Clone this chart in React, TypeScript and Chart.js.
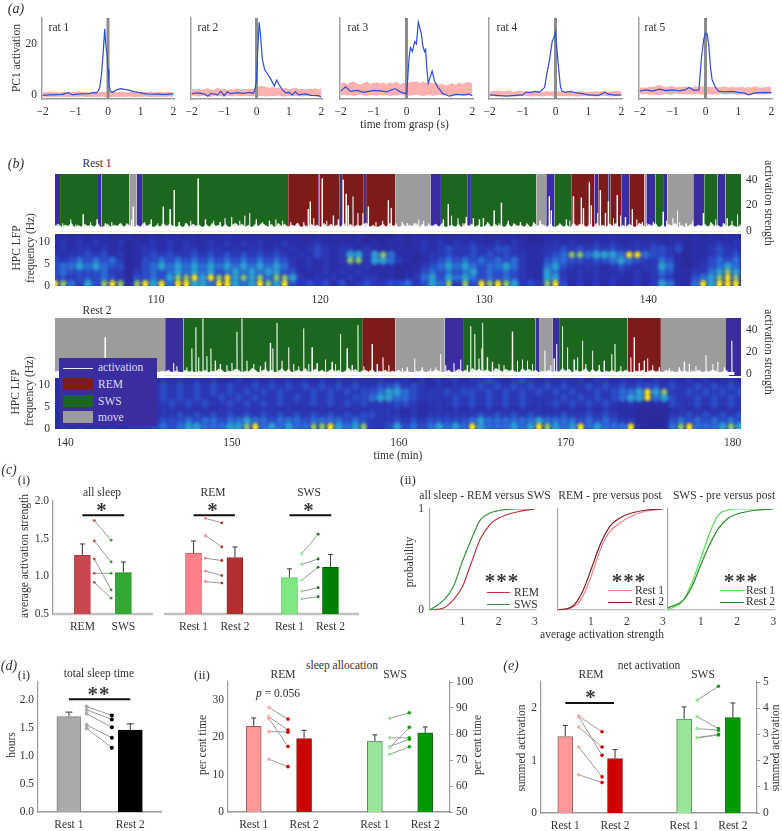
import React, { useEffect, useRef } from 'react';
import { Chart, registerables } from 'chart.js';

Chart.register(...registerables);
Chart.defaults.font.family = '"Liberation Serif", serif';
Chart.defaults.font.size = 11.5;

const TXT = '#333333';
const AXIS = '#9a9a9a';

/* ---------- (a) ---------- */
const bandT = [-2,-1.9,-1.8,-1.7,-1.6,-1.5,-1.4,-1.3,-1.2,-1.1,-1,-0.9,-0.8,-0.7,-0.6,-0.5,-0.4,-0.3,-0.2,-0.1,0,0.1,0.2,0.3,0.4,0.5,0.6,0.7,0.8,0.9,1,1.1,1.2,1.3,1.4,1.5,1.6,1.7,1.8,1.9,2];
const rat1U = [1.2,1.0,1.3,1.1,1.2,0.9,1.1,1.3,1.0,1.2,1.1,1.4,1.0,1.2,0.9,1.1,1.3,1.0,1.2,1.1,1.3,1.5,1.2,1.0,1.3,1.1,1.0,1.2,1.1,0.9,1.2,1.0,1.1,1.3,0.9,1.1,1.2,1.0,1.3,1.1,1.0];
const rat1L = [-0.8,-0.7,-0.9,-0.7,-0.8,-0.6,-0.8,-0.7,-0.9,-0.7,-0.8,-0.7,-0.6,-0.8,-0.7,-0.9,-0.7,-0.8,-0.6,-0.8,-0.7,-0.8,-0.7,-0.9,-0.7,-0.8,-0.6,-0.7,-0.9,-0.7,-0.8,-0.7,-0.6,-0.8,-0.7,-0.9,-0.7,-0.8,-0.7,-0.6,-0.8];
const rat2U = [2.4,2.0,2.6,1.9,2.3,2.7,1.8,2.2,2.8,2.0,2.5,1.9,2.3,2.1,2.6,2.0,2.4,2.2,2.5,2.2,2.8,3.6,3.4,3.0,2.8,3.1,2.6,2.9,2.4,2.7,2.2,2.5,2.9,2.1,2.4,2.0,2.5,2.2,2.6,2.1,2.4];
const rat2L = [-0.5,-0.3,-0.6,-0.4,-0.2,-0.5,-0.7,-0.3,-0.5,-0.4,-0.6,-0.3,-0.4,-0.6,-0.2,-0.5,-0.4,-0.3,-0.5,-0.4,-0.3,-0.5,-0.4,-0.6,-0.3,-0.5,-0.4,-0.2,-0.5,-0.6,-0.3,-0.4,-0.5,-0.3,-0.6,-0.4,-0.5,-0.3,-0.4,-0.6,-0.5];
const rat3U = [4.4,5.0,4.2,4.9,5.3,4.5,4.0,4.8,5.2,4.3,4.7,5.1,4.4,4.9,4.2,5.0,4.6,5.3,4.1,4.8,4.4,5.2,5.0,5.5,4.6,5.3,4.8,5.1,4.5,4.9,4.0,4.4,3.6,4.2,4.7,3.8,5.0,4.3,4.9,5.1,4.6];
const rat3L = [-0.2,0.1,-0.3,0.0,-0.4,-0.1,0.2,-0.2,-0.4,0.0,-0.1,-0.3,0.1,-0.2,0.0,-0.4,-0.1,-0.3,0.1,-0.2,0.0,-0.3,-0.1,0.1,-0.2,-0.4,-0.1,0.0,-0.3,-0.1,0.1,-0.2,0.0,0.2,-0.3,-0.1,0.0,-0.2,-0.4,0.0,-0.2];
const rat4U = [1.2,1.6,1.4,1.7,1.3,1.5,1.7,1.2,1.4,1.6,1.3,1.5,1.2,1.4,1.6,1.3,1.1,1.5,1.3,1.4,1.2,1.5,1.3,1.1,1.4,1.2,1.0,1.3,1.4,1.1,1.3,1.2,1.4,1.1,1.5,1.7,1.3,1.2,1.5,1.6,1.3];
const rat4L = [-0.5,-0.4,-0.6,-0.5,-0.3,-0.6,-0.4,-0.5,-0.6,-0.4,-0.5,-0.3,-0.5,-0.6,-0.4,-0.5,-0.6,-0.4,-0.3,-0.5,-0.6,-0.4,-0.5,-0.3,-0.6,-0.4,-0.5,-0.6,-0.4,-0.3,-0.5,-0.4,-0.6,-0.5,-0.4,-0.3,-0.5,-0.6,-0.4,-0.5,-0.4];
const rat5U = [2.8,3.0,2.7,3.3,3.1,3.6,3.9,3.4,3.0,3.3,3.5,2.9,3.2,3.0,3.4,2.8,3.1,3.3,3.0,3.4,3.5,3.2,3.0,3.3,2.9,3.1,3.4,2.8,3.2,3.0,2.9,3.3,2.7,3.1,2.9,3.4,3.0,2.8,3.2,3.0,3.3];
const rat5L = [0.4,0.2,0.5,0.1,0.3,0.0,-0.1,0.2,0.4,0.1,0.3,0.5,0.2,0.4,0.1,0.3,0.2,0.5,0.3,0.1,0.2,0.4,0.1,0.3,0.2,0.5,0.1,0.3,0.4,0.2,0.0,0.3,0.1,-0.1,0.2,0.4,0.1,0.3,0.2,0.4,0.3];

const rat1T = [-2,-1.8,-1.6,-1.4,-1.2,-1.1,-1,-0.8,-0.6,-0.45,-0.35,-0.3,-0.25,-0.2,-0.15,-0.1,-0.07,-0.03,0,0.03,0.07,0.1,0.15,0.2,0.3,0.4,0.5,0.6,0.8,1,1.2,1.5,1.8,2];
const rat1V = [-0.2,0,0.1,0.2,0.9,0,0.2,0.4,0.5,0.9,0.8,1.5,3,8,16,26,20,16,10,4,1.5,1.2,1,1.5,2.2,2.5,2.2,2,1.3,0.8,0.4,0.3,0.2,0.4];
const rat2T = [-2,-1.8,-1.6,-1.5,-1.4,-1.2,-1.1,-1,-0.9,-0.8,-0.6,-0.4,-0.2,-0.1,-0.05,0,0.03,0.08,0.12,0.18,0.25,0.35,0.45,0.55,0.62,0.7,0.8,0.9,1,1.1,1.2,1.3,1.5,1.7,1.9,2];
const rat2V = [0.5,0.8,0.3,-0.5,0.6,0,1.5,-0.3,1.2,0.5,0.9,0.6,1,0.6,2,6,15,28.5,24,14,10,8,6,3.5,5.8,4,2,0.8,1,0,1.2,0,0.4,-0.2,-0.3,-0.8];
const rat3T = [-2,-1.85,-1.7,-1.5,-1.3,-1,-0.8,-0.6,-0.35,-0.2,0,0.03,0.08,0.12,0.18,0.25,0.3,0.36,0.45,0.5,0.55,0.58,0.62,0.66,0.72,0.78,0.85,0.95,1.1,1.3,1.5,1.7,1.9,2];
const rat3V = [1.5,3.2,1.4,1.8,1,1.8,1.6,1.2,2.5,1.2,0.4,5,15,18.5,17,21,20,28.6,24,19,17,17.8,10,4.6,7,9.4,5.5,3,0.6,-0.5,0.2,0,0.3,-0.3];
const rat4T = [-2,-1.5,-1,-0.9,-0.75,-0.6,-0.5,-0.4,-0.33,-0.27,-0.19,-0.1,-0.05,0,0.03,0.08,0.15,0.2,0.3,0.45,0.6,0.8,1,1.3,1.5,1.6,1.8,2];
const rat4V = [0,-0.5,0,1,1,1.4,1,2,3,7.8,13,21,22.5,24.7,20,12.5,3.2,1.5,1,1.4,0.9,0.5,0,-0.2,1,0.3,-0.1,0];
const rat5T = [-2,-1.8,-1.6,-1.4,-1.2,-1,-0.8,-0.6,-0.5,-0.35,-0.2,-0.12,-0.05,0,0.05,0.1,0.15,0.2,0.3,0.4,0.6,0.8,1,1.2,1.3,1.5,1.8,2];
const rat5V = [1.5,2,1.5,2.3,1.7,2,1.6,2.1,2.9,1.8,2,15,22,24.3,24,19.6,11,6,3,1.5,1.2,1.4,1,0.7,0,0.8,1,0.9];

const ratNames = ['rat 1', 'rat 2', 'rat 3', 'rat 4', 'rat 5'];

/* ---------- (b) ---------- */
const stateColors: Record<string, string> = { N: '#3a2d9f', R: '#7d1a1a', S: '#1d661d', M: '#9c9c9c' };
const rest1Edges = [103.84,104.15,106.46,106.68,108.38,108.81,109.15,118.05,119.88,119.97,121.16,121.34,122.62,122.80,124.57,126.75,127.36,128.96,129.19,133.17,133.78,134.27,135.30,136.71,136.95,137.56,137.68,138.35,138.84,139.76,139.88,140.43,140.90,141.16,142.74,143.41,144.21,144.70,145.65];
const rest1States = 'NSNSMNSRNRNRNRMNSNSMNSRNRNRNRMNSNMNSNS';
const rest2Edges = [139.4,146,147.1,157.8,159.8,162.75,163.9,168.2,168.4,169.2,169.6,173.7,175.7,179.6,180.5];
const rest2States = 'MNSRMNSNMNSRMN';

const rest1SpikeT = [104.3,104.8,105.1,105.55,106,106.4,106.9,107.3,107.8,108.2,108.5,108.6,109.3,109.7,110.1,110.43,110.85,111.1,111.4,111.8,112.1,112.56,113,113.5,113.9,114.2,114.6,115.1,115.4,115.7,116.1,116.5,116.9,117.3,117.7,118.2,118.6,119,119.27,119.39,119.6,120.12,120.4,120.8,121.1,121.4,121.58,121.7,122,122.3,122.6,122.93,123.4,123.8,124.15,124.33,124.6,125,125.3,125.7,126,126.3,126.6,127.1,127.5,127.8,128,128.4,128.7,128.9,129.33,129.7,129.94,130.2,130.6,130.9,131.04,131.46,131.8,132.2,132.6,133,133.4,133.96,134.08,134.6,135,135.2,135.43,135.91,136.04,136.4,136.52,136.9,137.07,137.38,137.56,137.87,138.1,138.3,138.6,139.02,139.3,139.63,139.9,140.3,140.9,141.1,141.5,141.77,141.9,142.3,142.7,143.35,143.8,144.1,144.57,144.8,145.1,145.43];
const rest1SpikeV = [6,9,5,13,7,9,6,7,5,6,9,19,7,9,6,19,17,32,7,6,8,41,9,8,7,10,11,8,12,14,9,7,8,9,8,7,6,7,17,23,10,41,8,12,9,40,29,20,27,14,14,19,7,8,24,18,6,7,6,6,9,8,6,5,9,21,12,10,6,11,10,9,10,7,16,6,22,8,6,7,6,7,8,27,16,6,9,8,27,26,18,38,20,14,32,14,23,10,28,12,11,17,9,7,6,7,15,8,10,16,7,6,8,14,7,9,6,10,8,13];
const rest2SpikeT = [140.2,142.4,143.5,146.5,146.7,147.3,147.6,147.84,148,148.26,148.5,148.74,149,149.3,149.7,150,150.3,150.6,150.9,151.3,151.7,152,152.3,152.45,152.7,153,153.4,153.7,154,154.3,154.6,154.8,155.1,155.6,156,156.2,156.5,156.9,157.2,157.55,157.9,158.4,158.7,159.05,159.4,160.2,160.5,160.95,161.4,161.9,162.2,162.5,162.8,163.3,163.7,164.1,164.3,164.55,164.8,164.97,165.03,165.3,165.6,166,166.3,166.8,167.1,167.4,167.7,168,168.75,169.1,169.3,169.45,169.8,170.1,170.5,170.7,171,171.2,171.6,172,172.3,172.75,172.95,173.3,173.9,174.1,174.4,174.7,174.9,175.2,175.6,176.2,176.8,177.1,177.4,177.8,178.4,178.8,179.1,179.5,179.95];
const rest2SpikeV = [5,33,12,10,7,6,23,42,15,50,16,23,12,9,8,10,38,50,12,9,7,11,28,23,46,12,24,9,7,41,9,24,10,13,11,9,36,23,8,44,7,27,9,15,8,5,6,14,6,5,6,18,8,10,13,8,43,36,14,23,46,15,11,9,8,38,12,13,12,9,21,8,14,27,43,24,13,15,30,9,21,8,12,18,27,7,15,33,10,12,14,8,6,5,6,11,9,7,17,9,11,6,30];

/* small baseline jitter of the activation traces, one digit per 0.2 min */
const rest1Fuzz = '3524361425342613524362531426351426353241625341526342514635241536425163524361425341625342615243562413526341524361524352613425163524136253416253425163542613524163542516342536142531642536142536241352435263415243152';
const rest2Fuzz = '23132413242131423124132314231241324132142313241325413254132641352413625134261352413524136251342513241324132132413243124135241635243164253421635241324132635142361524132413242132413423142314231324132431241';

const specFreqs = [0.6, 1.9, 3.2, 4.5, 5.8, 7.1, 8.4, 9.7, 11];
const specColors = ['', '#2a2ea8', '#2b38b6', '#2b4cc8', '#2a6cd6', '#2a9ed2', '#8ccc68', '#f8e818'];
const rest1Spec = [
  '7642536761' + '6757477554' + '7754576573' + '2323131232' + '2334235462' + '6376765232' + '6731212121' + '1212541147' + '5777',
  '3323334320' + '3343566757' + '6756564665' + '2121212122' + '1101245354' + '5434343211' + '5521212121' + '1212321134' + '5676',
  '3433334220' + '2343454545' + '3454545533' + '1112121211' + '1101134343' + '4534343211' + '5421212112' + '1212431122' + '4565',
  '3445454330' + '1345454545' + '4545454542' + '1212112121' + '1100123454' + '5434454211' + '4532122123' + '2122541012' + '3454',
  '3234343420' + '1334343434' + '3434343432' + '1212126625' + '5421012343' + '4343434211' + '3443323345' + '4322431011' + '3434',
  '2122323120' + '1232322323' + '2323232321' + '2132125525' + '6411012232' + '2323232211' + '2346645554' + '7743321011' + '2323',
  '1212212110' + '1221212212' + '2121221212' + '1232122121' + '1011121232' + '2322332111' + '2232323232' + '2223323011' + '2322',
  '1212121120' + '1121212112' + '1212121121' + '1121011101' + '0110121212' + '1211212100' + '1212112121' + '1212112011' + '1212',
  '1101011001' + '0010110101' + '0110100101' + '0010100100' + '0010110100' + '1010011000' + '1010100110' + '1000010010' + '1011',
];
const rest2Spec = [
  '1212121212' + '2234345544' + '4556745454' + '4667545622' + '3534345454' + '7544454576' + '5457454447' + '1000467444' + '565',
  '1111111111' + '2223334344' + '3445443444' + '3444434322' + '2323233333' + '4544444454' + '4443434322' + '0000343434' + '343',
  '1111111111' + '1222232323' + '2323232323' + '2323232332' + '2212122222' + '2323232322' + '2322323211' + '0000223232' + '323',
  '1111111111' + '1212212121' + '2222222121' + '2121212122' + '2212112121' + '2121212121' + '2121212111' + '0000121212' + '121',
  '1111111111' + '2222323232' + '2323232322' + '2323232322' + '2332122232' + '3232323222' + '3232323212' + '1111322323' + '232',
  '1111111111' + '2323232322' + '3232322323' + '2323223345' + '5443222232' + '3232323222' + '2323232345' + '5745322323' + '232',
  '1111111111' + '2323232323' + '2323232322' + '2323232334' + '5543222323' + '3232323232' + '3232232344' + '5756223232' + '323',
  '1111111111' + '2223232323' + '2322323232' + '3232323223' + '3423212122' + '2323232323' + '2322323232' + '3332322323' + '232',
  '1111111111' + '1212121212' + '1121212121' + '2121212112' + '1121212121' + '2232123212' + '1212122121' + '2121212121' + '121',
];

/* ---------- (c)(ii) ---------- */
const cdf1X = [0.11, 0.48, 0.75, 1, 1.26, 1.49, 1.76, 2, 2.5, 3];
const cdf1Rem = [0, 0.02, 0.1, 0.23, 0.48, 0.7, 0.845, 0.91, 0.97, 1];
const cdf1Sws = [0, 0.096, 0.23, 0.48, 0.71, 0.89, 0.96, 0.985, 1, 1];
const cdf2X = [0.09, 0.48, 0.75, 1, 1.26, 1.53, 1.8, 2.13, 2.55, 3];
const cdf2Rest1 = [0, 0.026, 0.12, 0.33, 0.6, 0.78, 0.86, 0.93, 0.98, 1];
const cdf2Rest2 = [0, 0.035, 0.17, 0.4, 0.65, 0.83, 0.91, 0.96, 0.99, 1];
const cdf3X = [0.09, 0.52, 0.75, 1, 1.26, 1.49, 1.76, 2, 2.45, 3];
const cdf3Rest1 = [0, 0.1, 0.27, 0.515, 0.78, 0.945, 0.99, 1, 1, 1];
const cdf3Rest2 = [0.02, 0.1, 0.23, 0.45, 0.66, 0.81, 0.91, 0.95, 0.985, 1];

/* ---------- bar panels ---------- */
const c1Cats = ['REM', 'SWS', 'Rest 1', 'Rest 2', 'Rest 1', 'Rest 2'];
const c1Pos = [1, 2, 3.71, 4.72, 6.05, 7.05];
const c1Vals = [1.28, 1.05, 1.31, 1.25, 0.985, 1.12];
const c1Errs = [1.43, 1.19, 1.47, 1.39, 1.1, 1.29];
const c1AllL = [1.74, 1.47, 1.23, 1.04, 0.92];
const c1AllR = [1.48, 1.19, 0.82, 1.04, 0.71];
const c1RemL = [1.77, 1.54, 1.24, 1.07, 0.93];
const c1RemR = [1.71, 1.39, 1.21, 1.01, 0.91];
const c1SwsL = [1.3, 1.16, 0.95, 0.8, 0.7];
const c1SwsR = [1.56, 1.23, 1.12, 0.85, 0.73];

const d1Cats = ['Rest 1', 'Rest 2'];
const d1Pos = [1, 2];
const d1Vals = [1.71, 1.47];
const d1Errs = [1.79, 1.58];
const d1L = [1.89, 1.83, 1.76, 1.56, 1.5];
const d1R = [1.73, 1.66, 1.52, 1.33, 1.15];

const d2Cats = ['Rest 1', 'Rest 2', 'Rest 1', 'Rest 2'];
const d2Pos = [1, 2, 3.405, 4.405];
const d2Vals = [22.9, 19.6, 18.9, 21.15];
const d2Errs = [25.1, 21.8, 20.6, 22.7];
const d2RemL = [27.9, 25.4, 25, 21.5, 14.1];
const d2RemR = [24.8, 21.9, 17.5, 21.3, 12.1];
const d2SwsL = [25, 17.2, 19.8, 17.5, 15.4];
const d2SwsR = [26.5, 22.6, 19.8, 19.4, 17.4];

const eCats = ['Rest 1', 'Rest 2', 'Rest 1', 'Rest 2'];
const ePos = [1, 2, 3.39, 4.37];
const eVals = [1.46, 1.04, 1.79, 1.82];
const eErrs = [1.67, 1.21, 2.025, 2.1];
const eRemL = [1.85, 1.84, 1.64, 1.26, 0.73];
const eRemR = [1.55, 1.1, 1.26, 0.69, 0.58];
const eSwsL = [2.15, 1.84, 1.61, 1.43, 1.44];
const eSwsR = [2.42, 1.61, 1.58, 1.49, 1.5];

/* ---------- helpers ---------- */
const pts = (xs: number[], ys: number[]) => ys.map((y, i) => ({ x: xs[i], y }));
const ln = (data: any[], color: string, width: number, extra: any = {}) => ({
  type: 'line', data, borderColor: color, borderWidth: width, pointRadius: 0, tension: 0, fill: false, ...extra,
});

const xLin = (min: number, max: number, o: any = {}) => ({
  type: 'linear', position: 'bottom', min, max, offset: false,
  grid: { display: false, drawTicks: false, offset: false },
  border: { display: true, color: AXIS, width: 1.5 },
  ...o,
  ticks: { color: TXT, padding: 6, stepSize: 1, includeBounds: false, maxRotation: 0, autoSkip: false, ...(o.ticks || {}) },
});
const yLin = (min: number, max: number, o: any = {}) => ({
  type: 'linear', position: 'left', min, max,
  grid: { display: false, drawTicks: false },
  border: { display: true, color: AXIS, width: 1.2 },
  ...o,
  ticks: { color: TXT, padding: 4, includeBounds: false, autoSkip: false, ...(o.ticks || {}) },
});
const yRight = (min: number, max: number, step: number, o: any = {}) => ({
  type: 'linear', position: 'right', min, max,
  grid: { display: true, drawOnChartArea: false, drawTicks: true, tickLength: 3, color: AXIS },
  border: { display: true, color: AXIS, width: 1.2 },
  ...o,
  ticks: { color: TXT, padding: 3, stepSize: step, includeBounds: false, autoSkip: false, ...(o.ticks || {}) },
});

const bgPlugin = (color: string) => ({
  id: 'bg',
  beforeDatasetsDraw(c: any) {
    const a = c.chartArea;
    c.ctx.save();
    c.ctx.fillStyle = color;
    c.ctx.fillRect(a.left, a.top, a.right - a.left, a.bottom - a.top);
    c.ctx.restore();
  },
});
const softenPlugin = {
  id: 'soften',
  afterDatasetsDraw(c: any) {
    const a = c.chartArea;
    const ctx = c.ctx;
    ctx.save();
    ctx.beginPath();
    ctx.rect(a.left, a.top, a.right - a.left, a.bottom - a.top);
    ctx.clip();
    ctx.filter = 'blur(1.6px)';
    ctx.drawImage(ctx.canvas, 0, 0);
    ctx.restore();
  },
};

type Rect = [number, number, number, number];
type Margin = [number, number, number, number];

function Plot({ rect, margin = [34, 6, 24, 22], build, z = 1 }: { rect: Rect; margin?: Margin; build: () => any; z?: number }) {
  const ref = useRef<HTMLCanvasElement>(null);
  const [l, t, r, b] = rect;
  const [ml, mt, mr, mb] = margin;
  useEffect(() => {
    const cfg = build();
    const scales = cfg.scales;
    const shown = (p: string) => Object.values(scales).some((s: any) => s.position === p && s.display !== false);
    for (const s of Object.values(scales) as any[]) {
      s.afterFit = (sc: any) => {
        if (s.position === 'bottom') sc.height = mb;
        if (s.position === 'left') sc.width = ml;
        if (s.position === 'right') sc.width = mr;
        sc.paddingLeft = sc.paddingRight = sc.paddingTop = sc.paddingBottom = 0;
      };
    }
    const n = cfg.datasets.length;
    cfg.datasets.forEach((d: any, i: number) => { d.order = n - i; });
    const chart = new Chart(ref.current as HTMLCanvasElement, {
      type: 'line',
      data: { datasets: cfg.datasets },
      plugins: cfg.plugins || [],
      options: {
        responsive: false,
        animation: false,
        events: [],
        layout: {
          autoPadding: false,
          padding: {
            left: shown('left') ? 0 : ml,
            right: shown('right') ? 0 : mr,
            top: mt,
            bottom: shown('bottom') ? 0 : mb,
          },
        },
        plugins: { legend: { display: false }, tooltip: { enabled: false }, title: { display: false } },
        scales,
      },
    } as any);
    return () => chart.destroy();
  }, []);
  return (
    <canvas
      ref={ref}
      width={Math.round(r - l + ml + mr)}
      height={Math.round(b - t + mt + mb)}
      style={{ position: 'absolute', left: l - ml, top: t - mt, zIndex: z, display: 'block' }}
    />
  );
}

function Label({ x, y, text, size = 11.5, rot = false, italic = false, anchor = 'center', color = TXT, bold = false, spacing = 0, font, z = 5 }: any) {
  const tx = anchor === 'left' ? '0' : anchor === 'right' ? '-100%' : '-50%';
  return (
    <div style={{
      position: 'absolute', left: x, top: y, zIndex: z,
      transform: `translate(${tx},-50%)` + (rot ? ` rotate(${rot === 'cw' ? 90 : -90}deg)` : ''),
      fontFamily: font || '"Liberation Serif", serif', fontSize: size, fontStyle: italic ? 'italic' : 'normal',
      fontWeight: bold ? 700 : 400, letterSpacing: spacing, color, whiteSpace: 'nowrap', lineHeight: 1,
    }}>{text}</div>
  );
}
const Swatch = ({ x, y, w, h, color, z = 5 }: any) => (
  <div style={{ position: 'absolute', left: x, top: y, width: w, height: h, background: color, zIndex: z }} />
);
const Star = ({ x, y, n = 1 }: any) => (
  <Label x={x} y={y + 5} text={'*'.repeat(n)} size={21} bold spacing={1} color="#3a3a3a" />
);

/* ---------- chart builders ---------- */
function ratConfig(T: number[], V: number[], U: number[], L: number[], showY: boolean) {
  return () => ({
    datasets: [
      ln(pts(bandT, U), 'rgba(0,0,0,0)', 0, { fill: '+1', backgroundColor: '#ffb0b0' }),
      ln(pts(bandT, L), 'rgba(0,0,0,0)', 0),
      ln([{ x: 0, y: -1.6 }, { x: 0, y: 30.2 }], '#8c8c8c', 3),
      ln(pts(T, V), '#2a4fd0', 1.2),
    ],
    scales: {
      x: xLin(-2.02, 2.02, { border: { display: true, color: AXIS, width: 1.5 }, ticks: { callback: (v: number) => (v < 0 ? '\u2212' + -v : '' + v) } }),
      y: yLin(-1.6, 30.2, { border: { display: true, color: '#a0a0a0', width: 1.5 }, ticks: { stepSize: 20, padding: 5, display: showY } }),
    },
  });
}

function specConfig(rows: string[], t0: number, tMin: number, tMax: number, yMax: number) {
  return () => {
    const datasets: any[] = [];
    for (let lev = 1; lev <= 7; lev++) {
      const data: any[] = [];
      rows.forEach((row, r) => {
        for (let c = 0; c < row.length; c++) {
          if (Number(row[c]) === lev) data.push({ x: t0 + c * 0.5, y: specFreqs[r] });
        }
      });
      datasets.push({
        type: 'scatter', data, showLine: false, backgroundColor: specColors[lev], borderWidth: 0,
        pointRadius: lev >= 6 ? 3.2 : 4.2, pointStyle: 'circle',
      });
    }
    return {
      datasets,
      plugins: [bgPlugin('#2a2a9c'), softenPlugin],
      scales: {
        x: xLin(tMin, tMax, { border: { display: false }, ticks: { stepSize: 10, padding: 7 } }),
        y: yLin(0, yMax, { border: { display: false }, ticks: { stepSize: 5, padding: 5 } }),
      },
    };
  };
}

function stripConfig(edges: number[], states: string, sT: number[], sV: number[], fuzz: string, lineEnd: number, yMin: number, yMax: number, baseV: number, baseW: number) {
  return () => {
    const datasets: any[] = [];
    states.split('').forEach((s, i) => {
      datasets.push(ln([{ x: edges[i], y: yMax }, { x: edges[i + 1], y: yMax }], stateColors[s], 0, { fill: 'start', backgroundColor: stateColors[s] }));
    });
    const trace: any[] = [];
    sT.forEach((t, i) => {
      trace.push({ x: t - 0.02, y: baseV }, { x: t, y: sV[i] }, { x: t + 0.02, y: baseV });
    });
    datasets.push(ln(trace, 'rgba(255,255,255,0.72)', 0.9));
    const fz: any[] = [];
    fuzz.split('').forEach((d, i) => {
      const t = edges[0] + i * 0.2;
      if (t <= lineEnd) fz.push({ x: t, y: baseV + Number(d) * 0.8 });
    });
    datasets.push(ln(fz, 'rgba(255,255,255,0.6)', 0.6, { fill: 'start', backgroundColor: 'rgba(255,255,255,0.88)' }));
    datasets.push(ln([{ x: edges[0], y: baseV }, { x: lineEnd, y: baseV }], '#ffffff', baseW));
    return {
      datasets,
      scales: {
        x: xLin(edges[0], edges[edges.length - 1], { display: false }),
        y: yRight(yMin, yMax, 20, { grid: { display: false, drawTicks: false }, border: { display: false }, ticks: { padding: 5 } }),
      },
    };
  };
}

function cdfConfig(X: number[], A: number[], ca: string, B: number[], cb: string, xMin: number, xMax: number, showY: boolean) {
  const lineOpt = { cubicInterpolationMode: 'monotone' };
  return () => ({
    datasets: [ln(pts(X, A), ca, 1.2, lineOpt), ln(pts(X, B), cb, 1.2, lineOpt)],
    scales: {
      x: xLin(xMin, xMax, { border: { display: true, color: '#bdbdbd', width: 1.2 }, ticks: { padding: 5 } }),
      y: yLin(0, 1, { border: { display: true, color: '#a8a8a8', width: 1.2 }, ticks: { stepSize: 1, display: showY, padding: 6 } }),
    },
  });
}

type Pair = { xl: number; xr: number; l: number[]; r: number[]; cl: string; cr: string };
type Sig = { a: number; b: number; y: number };
function barConfig(o: {
  pos: number[]; cats: string[]; vals: number[]; errs: number[]; fills: string[]; edges: string[]; thick: number;
  pairs: Pair[]; sigs: Sig[]; x: [number, number]; y: [number, number]; yStep: number; dec?: number; dotR?: number; right?: any;
  baselines?: [number, number][]; sigW?: number; capR?: number;
}) {
  return () => {
    const datasets: any[] = [];
    if (o.baselines) {
      o.baselines.forEach(([a, b]) => datasets.push(ln([{ x: a, y: o.y[0] }, { x: b, y: o.y[0] }], '#c0c0c0', 2.5, { clip: false })));
    }
    o.pos.forEach((x, i) => {
      datasets.push(ln([{ x, y: o.vals[i] }, { x, y: o.errs[i] }], '#444444', 1.1, {
        pointStyle: 'line', pointRadius: [0, o.capR ?? 2.5], pointBorderColor: '#444444', pointBorderWidth: 1.1,
      }));
    });
    datasets.push({
      type: 'bar', data: pts(o.pos, o.vals), backgroundColor: o.fills, borderColor: o.edges, borderWidth: 1,
      barThickness: o.thick, grouped: false,
    });
    o.pairs.forEach((p) => {
      p.l.forEach((lv, i) => {
        datasets.push(ln([{ x: p.xl, y: lv }, { x: p.xr, y: p.r[i] }], '#9a9a9a', 1, {
          pointRadius: o.dotR ?? 1.5, pointBackgroundColor: [p.cl, p.cr], pointBorderColor: [p.cl, p.cr], pointBorderWidth: 0,
        }));
      });
    });
    o.sigs.forEach((s) => datasets.push(ln([{ x: s.a, y: s.y }, { x: s.b, y: s.y }], '#111111', o.sigW ?? 2)));
    const scales: any = {
      x: xLin(o.x[0], o.x[1], {
        border: o.baselines ? { display: false } : { display: true, color: AXIS, width: 1.5 },
        afterBuildTicks: (ax: any) => { ax.ticks = o.pos.map((value) => ({ value })); },
        ticks: { padding: 6, callback: (_: any, i: number) => o.cats[i] },
      }),
      y: yLin(o.y[0], o.y[1], {
        ticks: { stepSize: o.yStep, padding: 4, callback: (v: number) => (o.dec ? v.toFixed(o.dec) : String(v)) },
      }),
    };
    if (o.right) scales.y2 = o.right;
    return { datasets, scales };
  };
}

const legendRows = [
  { name: 'REM', color: stateColors.R },
  { name: 'SWS', color: stateColors.S },
  { name: 'move', color: stateColors.M },
];

export default function App() {
  return (
    <div style={{ position: 'absolute', left: 0, top: 0, width: 782, height: 831, overflow: 'hidden', background: '#fff', filter: 'blur(0.35px)' }}>
      {/* (a) */}
      <Plot rect={[42, 18, 174, 99]} margin={[26, 2, 12, 22]} build={ratConfig(rat1T, rat1V, rat1U, rat1L, true)} />
      <Plot rect={[191, 18, 322, 99]} margin={[12, 2, 12, 22]} build={ratConfig(rat2T, rat2V, rat2U, rat2L, false)} />
      <Plot rect={[340, 18, 473, 99]} margin={[12, 2, 12, 22]} build={ratConfig(rat3T, rat3V, rat3U, rat3L, false)} />
      <Plot rect={[489, 18, 622, 99]} margin={[12, 2, 12, 22]} build={ratConfig(rat4T, rat4V, rat4U, rat4L, false)} />
      <Plot rect={[639, 18, 772, 99]} margin={[12, 2, 8, 22]} build={ratConfig(rat5T, rat5V, rat5U, rat5L, false)} />
      <Label x={16} y={9} text="(a)" size={14} italic />
      {ratNames.map((n, i) => <Label key={n} x={[59, 208, 358, 507, 655][i]} y={28} text={n} />)}
      <Label x={17} y={58} text="PC1 activation" rot />
      <Label x={404.5} y={125} text="time from grasp (s)" />

      {/* (b) */}
      <Plot rect={[55, 234, 741, 286]} margin={[30, 0, 10, 22]} build={specConfig(rest1Spec, 103.84, 103.84, 145.65, 11.8)} />
      <Plot rect={[55, 174, 741, 234]} margin={[10, 0, 30, 2]} z={2} build={stripConfig(rest1Edges, rest1States, rest1SpikeT, rest1SpikeV, rest1Fuzz, 145.65, -0.75, 44.5, 1.5, 4.5)} />
      <Plot rect={[55, 378, 741, 429]} margin={[30, 0, 10, 22]} build={specConfig(rest2Spec, 139.4, 139.4, 180.5, 11.6)} />
      <Plot rect={[55, 318, 741, 378]} margin={[10, 0, 30, 2]} z={2} build={stripConfig(rest2Edges, rest2States, rest2SpikeT, rest2SpikeV, rest2Fuzz, 180.1, -1.7, 50.4, 0.5, 3)} />
      <Label x={16} y={164} text="(b)" size={14} italic />
      <Label x={97} y={164} text="Rest 1" />
      <Label x={97} y={311} text="Rest 2" />
      <Label x={17} y={248} text="HPC LFP" rot />
      <Label x={31} y={248} text="frequency (Hz)" rot />
      <Label x={16} y={392} text="HPC LFP" rot />
      <Label x={30} y={391} text="frequency (Hz)" rot />
      <Label x={768} y={203} text="activation strength" rot="cw" />
      <Label x={768} y={352} text="activation strength" rot="cw" />
      <Label x={398} y={456} text="time (min)" />
      {/* legend of (b) */}
      <Swatch x={59} y={358} w={98} h={68} color="#3a2d9f" z={6} />
      <Swatch x={63} y={367.5} w={30} h={1.5} color="#e8e8f8" z={7} />
      <Label x={98} y={368} text="activation" anchor="left" color="#dcdcec" z={7} />
      {legendRows.map((r, i) => (
        <React.Fragment key={r.name}>
          <Swatch x={63} y={378 + i * 16.5} w={30} h={12} color={r.color} z={7} />
          <Label x={98} y={385 + i * 16.5} text={r.name} anchor="left" color="#dcdcec" z={7} />
        </React.Fragment>
      ))}

      {/* (c)(i) */}
      <Plot
        rect={[53, 501, 359, 614]} margin={[34, 8, 6, 22]}
        build={barConfig({
          pos: c1Pos, cats: c1Cats, vals: c1Vals, errs: c1Errs, thick: 16,
          fills: ['#c8484f', '#33a833', '#ff8088', '#b03030', '#80e880', '#008000'],
          edges: ['#a03a40', '#2a8a2a', '#c06068', '#902828', '#60c060', '#006600'],
          pairs: [
            { xl: 1.29, xr: 1.7, l: c1AllL, r: c1AllR, cl: '#c8484f', cr: '#2f9f2f' },
            { xl: 4.0, xr: 4.4, l: c1RemL, r: c1RemR, cl: '#ff8088', cr: '#b03030' },
            { xl: 6.35, xr: 6.75, l: c1SwsL, r: c1SwsR, cl: '#80e880', cr: '#008000' },
          ],
          sigs: [{ a: 1, b: 2.02, y: 1.81 }, { a: 3.71, b: 4.72, y: 1.81 }, { a: 6.05, b: 7.07, y: 1.81 }],
          x: [0.283, 7.746], y: [0.5, 2], yStep: 0.5, dec: 1, dotR: 1.4,
          baselines: [[0.283, 2.72], [2.99, 7.746]], capR: 2.5,
        })}
      />
      <Label x={9} y={470} text="(c)" size={14} italic />
      <Label x={24} y={479} text="(i)" size={13} />
      <Label x={25} y={556} text="average activation strength" rot />
      <Label x={102} y={493} text="all sleep" />
      <Label x={213} y={493} text="REM" />
      <Label x={309} y={493} text="SWS" />
      <Star x={102} y={505} />
      <Star x={213} y={505} />
      <Star x={309} y={505} />

      {/* (c)(ii) */}
      <Plot rect={[430, 509, 536, 610]} margin={[14, 8, 6, 20]} build={cdfConfig(cdf1X, cdf1Rem, '#b8343a', cdf1Sws, '#3c8f3c', 0.108, 3.03, true)} />
      <Plot rect={[558, 509, 664, 610]} margin={[4, 8, 6, 20]} build={cdfConfig(cdf2X, cdf2Rest1, '#f08088', cdf2Rest2, '#7a1c22', 0.083, 3.03, false)} />
      <Plot rect={[668, 509, 774, 610]} margin={[4, 8, 6, 20]} build={cdfConfig(cdf3X, cdf3Rest1, '#55dd55', cdf3Rest2, '#2a8a2a', 0.09, 3.02, false)} />
      <Label x={408} y={479} text="(ii)" size={13} />
      <Label x={485} y={496} text="all sleep - REM versus SWS" />
      <Label x={610} y={496} text="REM - pre versus post" />
      <Label x={724} y={496} text="SWS - pre versus post" />
      <Label x={410} y={562} text="probability" rot />
      <Label x={602} y={635} text="average activation strength" />
      <Star x={502} y={576} n={3} />
      <Star x={629} y={576} n={3} />
      <Star x={741} y={576} n={3} />
      <Swatch x={487} y={591.5} w={23} h={1.2} color="#b8343a" />
      <Label x={514} y={593} text="REM" anchor="left" />
      <Swatch x={487} y={604} w={23} h={1.2} color="#3c8f3c" />
      <Label x={514} y={605} text="SWS" anchor="left" />
      <Swatch x={608} y={590} w={24} h={1.2} color="#f08088" />
      <Label x={635} y={591} text="Rest 1" anchor="left" />
      <Swatch x={608} y={601.5} w={24} h={1.2} color="#7a1c22" />
      <Label x={635} y={602} text="Rest 2" anchor="left" />
      <Swatch x={720} y={590} w={24} h={1.2} color="#55dd55" />
      <Label x={746} y={591} text="Rest 1" anchor="left" />
      <Swatch x={720} y={601.5} w={24} h={1.5} color="#2a8a2a" />
      <Label x={746} y={602} text="Rest 2" anchor="left" />

      {/* (d)(i) */}
      <Plot
        rect={[38, 682, 161, 812]} margin={[26, 8, 6, 18]}
        build={barConfig({
          pos: d1Pos, cats: d1Cats, vals: d1Vals, errs: d1Errs, thick: 24,
          fills: ['#aaaaaa', '#000000'], edges: ['#808080', '#000000'],
          pairs: [{ xl: 1.29, xr: 1.7, l: d1L, r: d1R, cl: '#aaaaaa', cr: '#000000' }],
          sigs: [{ a: 1, b: 2, y: 2.02 }],
          x: [0.497, 2.5], y: [0, 2.33], yStep: 0.5, dec: 1, dotR: 2, capR: 3.5,
        })}
      />
      <Label x={9} y={665.7} text="(d)" size={14} italic />
      <Label x={24} y={674} text="(i)" size={13} />
      <Label x={99} y={674} text="total sleep time" />
      <Star x={99} y={689} n={2} />
      <Label x={12} y={745} text="hours" rot />

      {/* (d)(ii) */}
      <Plot
        rect={[228, 682, 450, 812]} margin={[20, 8, 24, 18]}
        build={barConfig({
          pos: d2Pos, cats: d2Cats, vals: d2Vals, errs: d2Errs, thick: 15,
          fills: ['#ff9999', '#cc0000', '#99e699', '#009900'], edges: ['#906060', '#902020', '#608860', '#107010'],
          pairs: [
            { xl: 1.3, xr: 1.68, l: d2RemL, r: d2RemR, cl: '#ffaaaa', cr: '#cc0000' },
            { xl: 3.7, xr: 4.09, l: d2SwsL, r: d2SwsR, cl: '#9ce89c', cr: '#11a011' },
          ],
          sigs: [],
          x: [0.489, 4.897], y: [0, 34.7], yStep: 10, dotR: 1.8,
          right: yRight(50, 100, 10),
        })}
      />
      <Label x={202} y={674} text="(ii)" size={13} />
      <Label x={342} y={666} text="sleep allocation" />
      <Label x={283} y={675} text="REM" />
      <Label x={395} y={675} text="SWS" />
      <Label x={278} y={694} text={<span><i>p</i> = 0.056</span>} />
      <Label x={203} y={745} text="per cent time" rot />
      <Label x={478} y={745} text="per cent time" rot />

      {/* (e) */}
      <Plot
        rect={[541, 682, 757, 813]} margin={[14, 8, 16, 18]}
        build={barConfig({
          pos: ePos, cats: eCats, vals: eVals, errs: eErrs, thick: 15,
          fills: ['#ff9999', '#cc0000', '#99e699', '#009900'], edges: ['#906060', '#902020', '#608860', '#107010'],
          pairs: [
            { xl: 1.27, xr: 1.74, l: eRemL, r: eRemR, cl: '#ffaaaa', cr: '#cc0000' },
            { xl: 3.65, xr: 4.08, l: eSwsL, r: eSwsR, cl: '#9ce89c', cr: '#11a011' },
          ],
          sigs: [{ a: 1, b: 1.98, y: 2.1 }],
          x: [0.512, 4.855], y: [0, 2.5], yStep: 1, dotR: 1.8,
          right: yRight(0, 5, 1),
        })}
      />
      <Label x={511} y={666} text="(e)" size={14} italic />
      <Label x={649} y={666} text="net activation" />
      <Label x={591} y={675} text="REM" />
      <Label x={703} y={675} text="SWS" />
      <Star x={591} y={691.7} />
      <Label x={522} y={748} text="summed activation" rot />
      <Label x={776} y={748} text="summed activation" rot />
    </div>
  );
}
